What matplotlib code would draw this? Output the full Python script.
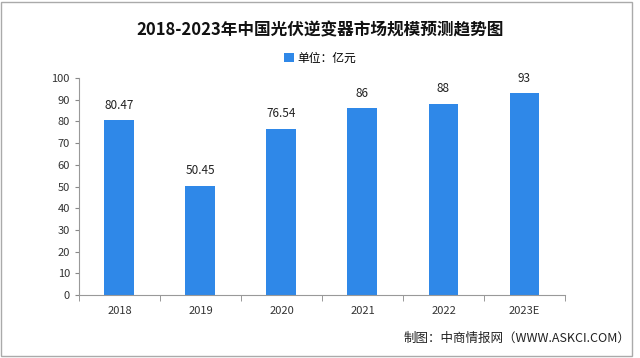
import numpy as np
import matplotlib.pyplot as plt
import matplotlib.patches as patches

plt.rcParams['font.family'] = ['Noto Sans CJK SC', 'DejaVu Sans']

years = ['2018', '2019', '2020', '2021', '2022', '2023E']
values = [80.47, 50.45, 76.54, 86, 88, 93]
labels = ['80.47', '50.45', '76.54', '86', '88', '93']

fig = plt.figure(figsize=(6.4, 3.58), dpi=100)
ax = fig.add_axes([0.1234, 0.176, 0.7594, 0.606])

x = np.arange(len(years))
ax.bar(x, values, width=0.37, color='#2f88e8', label='单位：亿元')
for xi, v, s in zip(x, values, labels):
    ax.text(xi, v + 4, s, ha='center', va='bottom', fontsize=8.5, color='#222222')

ax.set_xlim(-0.5, len(years) - 0.5)
ax.set_ylim(0, 100)
ax.set_yticks(np.arange(0, 101, 10))
ax.set_xticks(x)
ax.set_xticklabels(years, fontsize=8, color='#333333')
ax.set_xticks(np.arange(-0.5, len(years), 1), minor=True)
ax.tick_params(axis='x', which='major', length=0, pad=8)
ax.tick_params(axis='x', which='minor', length=4, color='#888888')
ax.tick_params(axis='y', labelsize=8, length=3, color='#888888', labelcolor='#333333')
for side in ['top', 'right']:
    ax.spines[side].set_visible(False)
ax.spines['left'].set_color('#999999')
ax.spines['bottom'].set_color('#999999')

fig.text(0.5, 0.915, '2018-2023年中国光伏逆变器市场规模预测趋势图', ha='center', va='center',
         fontsize=12, fontweight='bold', color='#111111')
leg = ax.legend(loc='center', bbox_to_anchor=(0.5, 0.838), bbox_transform=fig.transFigure,
                frameon=False, fontsize=8.5, handlelength=0.8, handleheight=0.8, handletextpad=0.3)
fig.text(0.985, 0.055, '制图：中商情报网（WWW.ASKCI.COM）', ha='right', va='center',
         fontsize=9, color='#222222')

fig.patches.append(patches.Rectangle((0.002, 0.005), 0.985, 0.99, transform=fig.transFigure,
                                     fill=False, edgecolor='#aaaaaa', linewidth=1))

fig.savefig('out.png', dpi=100)
